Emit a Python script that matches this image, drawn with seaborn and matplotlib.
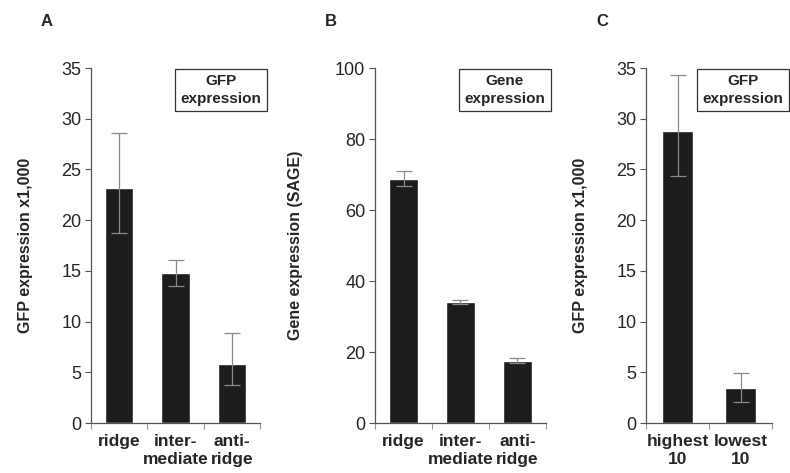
import numpy as np
import pandas as pd
import matplotlib
matplotlib.use("Agg")
import matplotlib.pyplot as plt
import seaborn as sns

sns.set_style("white")
plt.rcParams['font.family'] = ['Liberation Sans', 'DejaVu Sans']

# panel data
cats_ab = ["ridge\n", "inter-\nmediate", "anti-\nridge"]
gfp_a = [23.2, 14.8, 5.8]
gfp_a_low = [18.7, 13.5, 3.7]
gfp_a_high = [28.6, 16.1, 8.9]

sage_b = [68.8, 34.0, 17.5]
sage_b_low = [66.8, 33.4, 16.9]
sage_b_high = [71.0, 34.6, 18.2]

cats_c = ["highest\n10", "lowest\n10"]
gfp_c = [28.8, 3.5]
gfp_c_low = [24.4, 2.1]
gfp_c_high = [34.3, 4.9]

fig = plt.figure(figsize=(7.9, 4.73), dpi=100)

bottom = 1 - 423 / 473
height = (423 - 68) / 473
ax_a = fig.add_axes([91 / 790, bottom, 169 / 790, height])
ax_b = fig.add_axes([375 / 790, bottom, 171 / 790, height])
ax_c = fig.add_axes([646 / 790, bottom, 126 / 790, height])

bar_color = "#1c1c1c"
err_color = "#8a8a8a"


def panel(ax, cats, vals, low, high, ymax, ystep, ylabel, pad):
    df = pd.DataFrame({"cat": cats, "val": vals})
    sns.barplot(data=df, x="cat", y="val", color=bar_color, width=0.5,
                saturation=1, errorbar=None, ax=ax)
    vals = np.array(vals)
    yerr = [vals - np.array(low), np.array(high) - vals]
    ax.errorbar(np.arange(len(cats)), vals, yerr=yerr, fmt="none",
                ecolor=err_color, elinewidth=0.9, capsize=6, capthick=0.9)
    ax.set_xlim(-0.5, len(cats) - 0.5)
    ax.set_ylim(0, ymax)
    ax.set_yticks(np.arange(0, ymax + 0.1, ystep))
    ax.set_xlabel("")
    ax.set_ylabel(ylabel, fontsize=11.5, fontweight="bold", labelpad=pad)
    sns.despine(ax=ax)
    for s in ["left", "bottom"]:
        ax.spines[s].set_color("#555555")
        ax.spines[s].set_linewidth(0.9)
    ax.tick_params(axis="y", direction="out", length=4, width=0.8,
                   color="#555555", labelsize=13, left=True, pad=3)
    ax.tick_params(axis="x", which="major", length=0, labelsize=12.5, pad=8)
    ax.set_xticks(np.arange(-0.5, len(cats)), minor=True)
    ax.tick_params(axis="x", which="minor", direction="out", length=4,
                   width=0.8, color="#999999", bottom=True)
    for lab in ax.get_xticklabels():
        lab.set_fontweight("bold")
        lab.set_verticalalignment("top")
        lab.set_linespacing(1.2)


panel(ax_a, cats_ab, gfp_a, gfp_a_low, gfp_a_high, 35, 5, "GFP expression x1,000", 20)
panel(ax_b, cats_ab, sage_b, sage_b_low, sage_b_high, 100, 20, "Gene expression (SAGE)", 23)
panel(ax_c, cats_c, gfp_c, gfp_c_low, gfp_c_high, 35, 5, "GFP expression x1,000", 20)

box = dict(boxstyle="square,pad=0.35", facecolor="white", edgecolor="#333333", linewidth=0.9)
for txt, xp in [("GFP\nexpression", 221), ("Gene\nexpression", 505), ("GFP\nexpression", 743)]:
    fig.text(xp / 790, 1 - 90 / 473, txt, ha="center", va="center",
             fontsize=11, fontweight="bold", bbox=box, linespacing=1.3)

for lbl, xp in [("A", 47), ("B", 331), ("C", 602)]:
    fig.text(xp / 790, 1 - 22 / 473, lbl, ha="center", va="center",
             fontsize=12, fontweight="bold")

fig.savefig("out.png", dpi=100, facecolor="white")
